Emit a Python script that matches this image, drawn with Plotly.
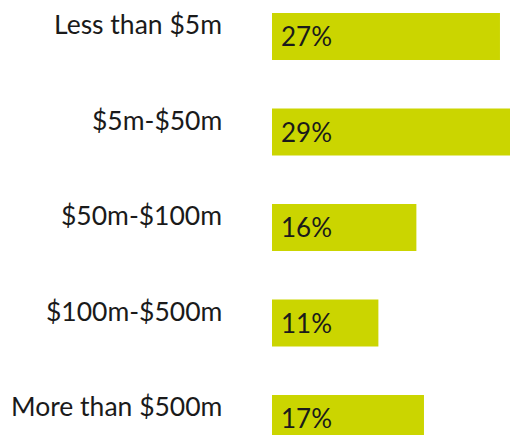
import plotly.graph_objects as go

categories = ["Less than $5m", "$5m-$50m", "$50m-$100m", "$100m-$500m", "More than $500m"]
values = [27, 29, 16, 11, 17]
value_labels = ["27%", "29%", "16%", "11%", "17%"]

OFFSET = 3.0  # bars start slightly left of zero
BAR_COLOR = "#cbd500"
TEXT_COLOR = "#1a1a1a"
FONT = "Lato, 'Open Sans', sans-serif"

fig = go.Figure()
fig.add_trace(go.Bar(
    y=categories,
    x=[v + OFFSET for v in values],
    base=-OFFSET,
    orientation="h",
    marker=dict(color=BAR_COLOR, line=dict(width=0)),
    width=0.492,
    hoverinfo="skip",
))

annotations = []
for cat, lab in zip(categories, value_labels):
    annotations.append(dict(
        x=-OFFSET, y=cat, xref="x", yref="y",
        text=lab, showarrow=False,
        xanchor="left", yanchor="middle", xshift=7,
        font=dict(family=FONT, size=26, color=TEXT_COLOR),
    ))
    annotations.append(dict(
        x=-OFFSET, y=cat, xref="x", yref="y",
        text=cat, showarrow=False,
        xanchor="right", yanchor="middle", xshift=-48, yshift=12,
        font=dict(family=FONT, size=26.5, color=TEXT_COLOR),
    ))

fig.update_layout(
    width=510, height=435,
    margin=dict(l=272, r=0, t=0, b=0),
    paper_bgcolor="white", plot_bgcolor="white",
    showlegend=False,
    hovermode=False,
    xaxis=dict(range=[-OFFSET, 28.32], visible=False, fixedrange=True),
    yaxis=dict(type="category", range=[4.173, -0.382], visible=False, fixedrange=True),
    annotations=annotations,
)

fig.write_html(
    "out.html",
    config={"displayModeBar": False},
    post_script="document.body.style.margin='0';document.body.style.overflow='hidden';",
)
